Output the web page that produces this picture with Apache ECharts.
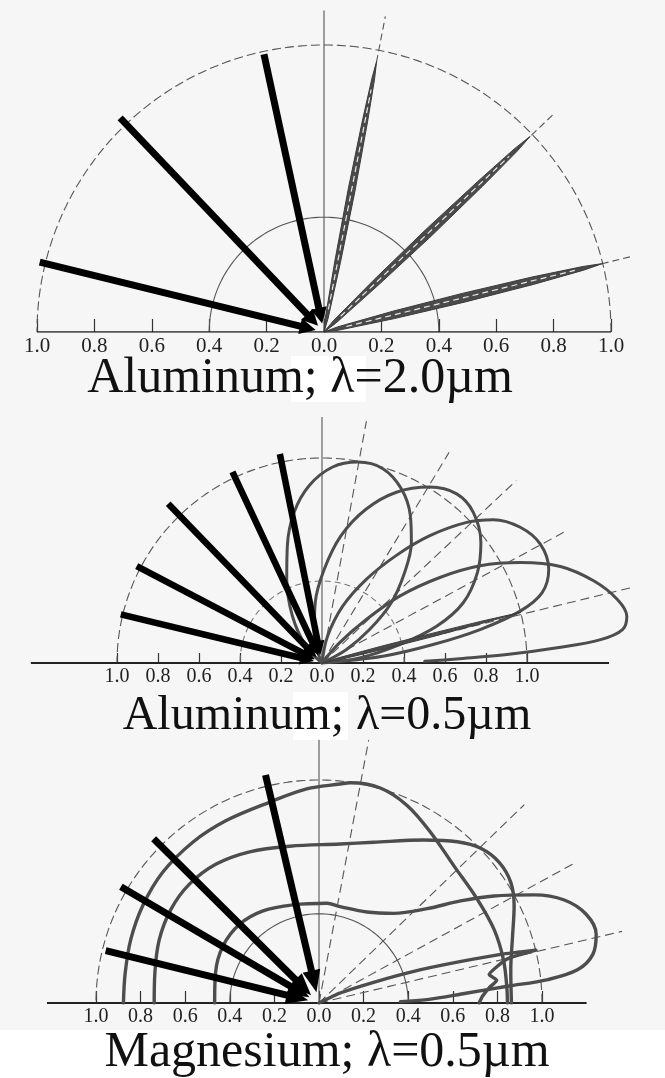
<!DOCTYPE html>
<html>
<head>
<meta charset="utf-8">
<script src="https://cdn.jsdelivr.net/npm/echarts@6/dist/echarts.min.js"></script>
<style>
  html, body { margin: 0; padding: 0; background: #f6f6f6; }
  #chart { width: 665px; height: 1078px; }
</style>
</head>
<body>
<div id="chart"></div>
<script>
// Bidirectional reflection patterns: incident beams (black arrows, from the left)
// and scattered intensity lobes (grey), radius = relative intensity.

// ---------- Aluminum, λ = 2.0 µm ----------
const al20BeamAngles  = [166.2, 133.6, 102.2];   // deg from +x axis
const al20BeamLengths = [1.02, 1.03, 0.99];
const al20GuideAngles  = [79, 43.5, 13.8];        // specular directions
const al20GuideLengths = [1.12, 1.11, 1.10];
// narrow specular spikes, outline as [angle deg, radius]
const al20SpikeA = [[84.7, 0.05], [81.3, 0.25], [80.4, 0.5], [79.7, 0.75], [79.3, 0.9], [79.0, 0.96],
                    [78.7, 0.9], [78.3, 0.75], [77.6, 0.5], [76.7, 0.25], [73.3, 0.05]];
const al20SpikeB = [[50.3, 0.05], [46.3, 0.25], [45.2, 0.5], [44.4, 0.75], [43.9, 0.92], [43.5, 0.99],
                    [43.1, 0.92], [42.6, 0.75], [41.8, 0.5], [40.8, 0.25], [36.7, 0.05]];
const al20SpikeC = [[20.6, 0.05], [16.8, 0.25], [15.6, 0.5], [14.8, 0.75], [14.2, 0.93], [13.8, 1.0],
                    [13.4, 0.93], [12.8, 0.75], [12.0, 0.5], [10.8, 0.25], [7.0, 0.05]];

// ---------- Aluminum, λ = 0.5 µm ----------
const al05BeamAngles  = [166.4, 152.4, 134.0, 115.1, 101.4];
const al05BeamLengths = [1.01, 1.02, 1.08, 1.03, 1.04];
const al05GuideAngles  = [79.6, 58.9, 43.2, 28.4, 13.7];
const al05GuideLengths = [1.2, 1.2, 1.3, 1.34, 1.57];
// lobes as [x, y] in units of the outer circle
const al05Lobe1 = [[0, 0], [-0.078, 0.081], [-0.144, 0.228], [-0.172, 0.408], [-0.169, 0.572], [-0.136, 0.735],
                   [-0.062, 0.866], [0.052, 0.956], [0.175, 0.98], [0.297, 0.948], [0.387, 0.85], [0.431, 0.719],
                   [0.436, 0.588], [0.403, 0.441], [0.338, 0.294], [0.232, 0.163], [0.118, 0.065], [0, 0]];
const al05Lobe2 = [[0, 0], [-0.038, 0.13], [-0.033, 0.294], [0.011, 0.457], [0.093, 0.621], [0.216, 0.751],
                   [0.363, 0.833], [0.526, 0.858], [0.657, 0.825], [0.738, 0.735], [0.775, 0.588], [0.758, 0.441],
                   [0.689, 0.294], [0.559, 0.179], [0.379, 0.09], [0.183, 0.025], [0, 0]];
const al05Lobe3 = [[0, 0], [0.027, 0.13], [0.101, 0.277], [0.216, 0.408], [0.363, 0.525], [0.526, 0.621],
                   [0.706, 0.686], [0.836, 0.699], [0.967, 0.662], [1.065, 0.58], [1.106, 0.457], [1.074, 0.343],
                   [0.967, 0.253], [0.771, 0.163], [0.542, 0.09], [0.297, 0.033], [0, 0]];
const al05Lobe4 = [[0, 0], [0.085, 0.098], [0.216, 0.212], [0.379, 0.326], [0.575, 0.417], [0.771, 0.474],
                   [0.967, 0.49], [1.163, 0.471], [1.327, 0.4], [1.441, 0.31], [1.487, 0.228], [1.466, 0.163],
                   [1.359, 0.114], [1.147, 0.074], [0.902, 0.041], [0.657, 0.02], [0.501, 0.008]];
const al05Spike = [[17.5, 0.08], [15.8, 0.3], [15.1, 0.55], [14.7, 0.8], [14.3, 1.0],
                   [13.9, 0.8], [13.4, 0.55], [12.6, 0.3], [10.5, 0.08]];

// ---------- Magnesium, λ = 0.5 µm ----------
const mgBeamAngles  = [166.2, 149.6, 135.2, 103.2];
const mgBeamLengths = [0.985, 1.03, 1.045, 1.05];
const mgGuideAngles  = [79.3, 44.0, 28.7, 13.3];
const mgGuideLengths = [1.2, 1.28, 1.31, 1.40];
const mgLobe1 = [[-0.877, 0], [-0.869, 0.135], [-0.844, 0.285], [-0.791, 0.435], [-0.701, 0.586], [-0.566, 0.721],
                 [-0.416, 0.818], [-0.22, 0.901], [-0.055, 0.96], [0.095, 0.982], [0.14, 0.988], [0.275, 0.964],
                 [0.395, 0.886], [0.5, 0.766], [0.605, 0.615], [0.71, 0.465], [0.785, 0.33], [0.827, 0.195],
                 [0.842, 0.075], [0.845, 0]];
const mgLobe2 = [[-0.739, 0], [-0.736, 0.135], [-0.716, 0.285], [-0.664, 0.42], [-0.581, 0.533], [-0.461, 0.623],
                 [-0.311, 0.678], [-0.131, 0.703], [0.095, 0.713], [0.245, 0.721], [0.47, 0.731], [0.62, 0.723],
                 [0.725, 0.694], [0.808, 0.631], [0.86, 0.541], [0.875, 0.435], [0.868, 0.3], [0.86, 0.15], [0.863, 0]];
const mgLobe3 = [[-0.468, 0], [-0.464, 0.135], [-0.431, 0.255], [-0.356, 0.353], [-0.251, 0.413], [-0.116, 0.44],
                 [0.035, 0.447], [0.095, 0.432], [0.215, 0.408], [0.335, 0.402], [0.485, 0.423], [0.635, 0.458],
                 [0.785, 0.48], [0.965, 0.485], [1.1, 0.462], [1.198, 0.398], [1.243, 0.308], [1.228, 0.218],
                 [1.161, 0.15], [1.026, 0.105], [0.845, 0.075], [0.665, 0.045], [0.485, 0.015], [0.365, 0.006]];
const mgLobe4 = [[0, 0], [0.095, 0.045], [0.245, 0.093], [0.425, 0.142], [0.62, 0.183], [0.815, 0.218],
                 [0.973, 0.237], [0.845, 0.198], [0.8, 0.165], [0.763, 0.128], [0.797, 0.102], [0.763, 0.068],
                 [0.733, 0.03], [0.718, 0]];

// shared radial scale
const tickValues = [-1, -0.8, -0.6, -0.4, -0.2, 0, 0.2, 0.4, 0.6, 0.8, 1];
const innerRing = 0.4;
const outerRing = 1.0;

const titles = ['Aluminum; λ=2.0µm', 'Aluminum; λ=0.5µm', 'Magnesium; λ=0.5µm'];

// ---------- layout of the three panels (pixels) ----------
const panels = [
  { cx: 324, cy: 332, R: 287, xMin: -1.1, xMax: 1.15, yMax: 1.15, base: [-1.0, 1.0],
    tickLen: 13, labelSize: 21, axisW: 1.3, innerDash: false, vertLen: 1.12, guideDash: [7, 4], lobeW: 3 },
  { cx: 322, cy: 663, R: 205, xMin: -1.45, xMax: 1.6, yMax: 1.25, base: [-1.42, 1.4],
    tickLen: 10, labelSize: 20, axisW: 2, innerDash: true, vertLen: 1.2, guideDash: [9, 5], lobeW: 3 },
  { cx: 319, cy: 1003, R: 223, xMin: -1.3, xMax: 1.35, yMax: 1.3, base: [-1.22, 1.2],
    tickLen: 12, labelSize: 20, axisW: 2, innerDash: false, vertLen: 1.18, guideDash: [9, 5], lobeW: 3.4 }
];

const LOBE_COLOR = '#4d4d4d';
const GUIDE_COLOR = '#555';

function pol(deg, r) {
  const t = deg * Math.PI / 180;
  return [r * Math.cos(t), r * Math.sin(t)];
}
function ring(r) {
  const pts = [];
  for (let k = 0; k <= 180; k++) pts.push(pol(k, r));
  return pts;
}

const grids = [], xAxes = [], yAxes = [], series = [];

panels.forEach((p, i) => {
  grids.push({
    left: p.cx + p.xMin * p.R,
    top: p.cy - p.yMax * p.R,
    width: (p.xMax - p.xMin) * p.R,
    height: p.yMax * p.R
  });
  xAxes.push({
    type: 'value', gridIndex: i, min: p.xMin, max: p.xMax,
    axisLine: { show: false },
    axisTick: { show: true, inside: true, length: p.tickLen, customValues: tickValues,
                lineStyle: { color: '#333', width: 1.2 } },
    axisLabel: { show: true, customValues: tickValues, margin: 4,
                 formatter: v => Math.abs(v).toFixed(1),
                 fontFamily: 'Liberation Serif', fontSize: p.labelSize, color: '#222' },
    splitLine: { show: false }
  });
  yAxes.push({ type: 'value', gridIndex: i, min: 0, max: p.yMax, show: false });
});

function line(i, data, style, extra) {
  return Object.assign({
    type: 'line', xAxisIndex: i, yAxisIndex: i, data, symbol: 'none', showSymbol: false,
    silent: true, animation: false, lineStyle: style, z: 2
  }, extra || {});
}

function polygon(i, pts, style, z) {
  return {
    type: 'custom', xAxisIndex: i, yAxisIndex: i, coordinateSystem: 'cartesian2d',
    data: [[0, 0]], silent: true, z,
    renderItem: (params, api) => ({
      type: 'polygon', shape: { points: pts.map(q => api.coord(q)) }, style
    })
  };
}

function beams(i, angles, lengths, tipR, shaftW, headL, headW) {
  return {
    type: 'custom', xAxisIndex: i, yAxisIndex: i, coordinateSystem: 'cartesian2d',
    data: angles.map((a, k) => [a, lengths[k]]), silent: true, z: 8,
    renderItem: (params, api) => {
      const a = api.value(0), len = api.value(1);
      const s = api.coord(pol(a, len)), t = api.coord(pol(a, tipR));
      const dx = t[0] - s[0], dy = t[1] - s[1], d = Math.hypot(dx, dy);
      const ux = dx / d, uy = dy / d, nx = -uy, ny = ux;
      const b = [t[0] - ux * headL, t[1] - uy * headL];
      return {
        type: 'group',
        children: [
          { type: 'line', shape: { x1: s[0], y1: s[1], x2: b[0] + ux * 2, y2: b[1] + uy * 2 },
            style: { stroke: '#000', lineWidth: shaftW } },
          { type: 'polygon',
            shape: { points: [t, [b[0] + nx * headW / 2, b[1] + ny * headW / 2], [b[0] - nx * headW / 2, b[1] - ny * headW / 2]] },
            style: { fill: '#000' } }
        ]
      };
    }
  };
}

function frame(i, guideAngles, guideLengths) {
  const p = panels[i];
  series.push(line(i, [[p.base[0], 0], [p.base[1], 0]], { color: '#222', width: p.axisW }, { z: 3 }));
  series.push(line(i, ring(outerRing), { color: '#555', width: 1.1, type: [9, 4] }));
  series.push(line(i, ring(innerRing), p.innerDash
    ? { color: '#777', width: 1.1, type: [6, 4] }
    : { color: '#555', width: 1.1 }));
  series.push(line(i, [[0, 0], pol(90, p.vertLen)], { color: '#555', width: 1.1 }));
  guideAngles.forEach((a, k) => {
    series.push(line(i, [[0, 0], pol(a, guideLengths[k])], { color: GUIDE_COLOR, width: 1.1, type: p.guideDash }));
  });
}

function lobe(i, pts, smooth) {
  series.push(line(i, pts, { color: LOBE_COLOR, width: panels[i].lobeW, cap: 'round', join: 'round' },
    { smooth: smooth, z: 4 }));
}

function spike(i, outline, withDash) {
  const pts = [[0, 0]].concat(outline.map(q => pol(q[0], q[1]))).concat([[0, 0]]);
  series.push(polygon(i, pts, { fill: '#4a4a4a', stroke: '#3c3c3c', lineWidth: 1, lineJoin: 'round' }, 5));
  if (withDash) {
    const tip = outline[Math.floor(outline.length / 2)];
    series.push(line(i, [pol(tip[0], 0.08), pol(tip[0], tip[1] - 0.1)],
      { color: '#e8e8e8', width: 1.2, type: [6, 4] }, { z: 6 }));
  }
}

// panel 1
frame(0, al20GuideAngles, al20GuideLengths);
[al20SpikeA, al20SpikeB, al20SpikeC].forEach(s => spike(0, s, true));
series.push(beams(0, al20BeamAngles, al20BeamLengths, 0.03, 7, 16, 16));

// panel 2
frame(1, al05GuideAngles, al05GuideLengths);
[al05Lobe1, al05Lobe2, al05Lobe3, al05Lobe4].forEach(l => lobe(1, l, 0.35));
spike(1, al05Spike, false);
series.push(beams(1, al05BeamAngles, al05BeamLengths, 0.04, 6.5, 14, 14));

// panel 3
frame(2, mgGuideAngles, mgGuideLengths);
[mgLobe1, mgLobe2, mgLobe3].forEach(l => lobe(2, l, 0.35));
lobe(2, mgLobe4, 0.2);
series.push(beams(2, mgBeamAngles, mgBeamLengths, 0.05, 7, 22, 18));

const titleY = [379, 716, 1053];
const titleX = [300, 327, 327];
const titleSize = [50, 48, 50];

const chart = echarts.init(document.getElementById('chart'));
chart.setOption({
  animation: false,
  backgroundColor: '#f6f6f6',
  grid: grids,
  xAxis: xAxes,
  yAxis: yAxes,
  series,
  graphic: [
    { type: 'rect', z: 0, shape: { x: 0, y: 1030, width: 665, height: 48 }, style: { fill: '#ffffff' } },
    { type: 'rect', z: 0, shape: { x: 291, y: 356, width: 75, height: 46 }, style: { fill: '#ffffff' } },
    { type: 'rect', z: 0, shape: { x: 293, y: 692, width: 55, height: 48 }, style: { fill: '#ffffff' } }
  ].concat(titles.map((t, k) => ({
    type: 'text', z: 10, x: titleX[k], y: titleY[k],
    style: { text: t, fontFamily: 'Liberation Serif', fontSize: titleSize[k], fill: '#111',
             align: 'center', verticalAlign: 'middle' }
  })))
});
</script>
</body>
</html>
